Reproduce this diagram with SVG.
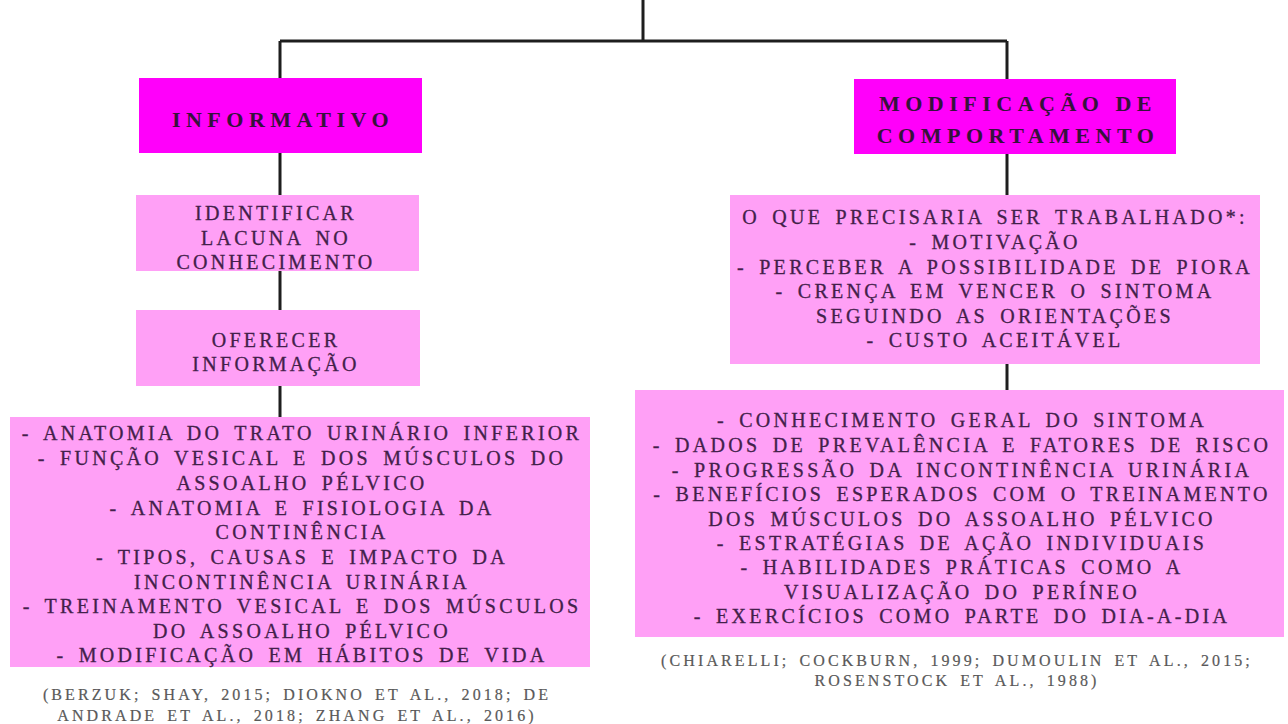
<svg xmlns="http://www.w3.org/2000/svg" width="1288" height="724" viewBox="0 0 1288 724" font-family="'Liberation Serif', 'DejaVu Serif', serif">
<style>
.hd{fill:#ff00fa}
.bx{fill:#ffa0f6}
.t{font-size:20px;letter-spacing:3.3px;word-spacing:4px;fill:#43204a;stroke:#43204a;stroke-width:0.3;text-anchor:middle}
.h{font-size:22px;font-weight:bold;letter-spacing:5.5px;fill:#36123c;text-anchor:middle}
.c{font-size:16px;letter-spacing:3.1px;word-spacing:3px;fill:#595959;stroke:#595959;stroke-width:0.2;text-anchor:middle}
.ln{stroke:#1e1e1e;stroke-width:3;fill:none}
</style>
<rect width="1288" height="724" fill="#ffffff"/>
<g id="connectors">
<path class="ln" d="M643 0V41M280 41H1007M280 41V78M280 153V195M280 271V310M280 386V417M1007 41V79M1007 154V195M1007 364V390"/>
</g>
<g id="informativo">
<rect class="hd" x="139" y="78" width="283" height="75"/>
<text class="h" x="283" y="127" font-family="Liberation Serif">INFORMATIVO</text>
</g>
<g id="identificar" font-family="Liberation Serif">
<rect class="bx" x="136" y="195" width="283" height="76"/>
<text class="t" x="276" y="220">IDENTIFICAR</text>
<text class="t" x="276" y="245">LACUNA NO</text>
<text class="t" x="276" y="269">CONHECIMENTO</text>
</g>
<g id="oferecer" font-family="Liberation Serif">
<rect class="bx" x="136" y="310" width="284" height="76"/>
<text class="t" x="276" y="347">OFERECER</text>
<text class="t" x="276" y="371">INFORMAÇÃO</text>
</g>
<g id="conteudo-informativo" font-family="Liberation Serif">
<rect class="bx" x="10" y="417" width="580" height="250"/>
<text class="t" x="302" y="440">- ANATOMIA DO TRATO URINÁRIO INFERIOR</text>
<text class="t" x="302" y="465">- FUNÇÃO VESICAL E DOS MÚSCULOS DO</text>
<text class="t" x="302" y="490">ASSOALHO PÉLVICO</text>
<text class="t" x="302" y="515">- ANATOMIA E FISIOLOGIA DA</text>
<text class="t" x="302" y="539">CONTINÊNCIA</text>
<text class="t" x="302" y="564">- TIPOS, CAUSAS E IMPACTO DA</text>
<text class="t" x="302" y="589">INCONTINÊNCIA URINÁRIA</text>
<text class="t" x="302" y="613">- TREINAMENTO VESICAL E DOS MÚSCULOS</text>
<text class="t" x="302" y="638">DO ASSOALHO PÉLVICO</text>
<text class="t" x="302" y="662">- MODIFICAÇÃO EM HÁBITOS DE VIDA</text>
</g>
<g id="citacao-esquerda" font-family="Liberation Serif">
<text class="c" x="297" y="700">(BERZUK; SHAY, 2015; DIOKNO ET AL., 2018; DE</text>
<text class="c" x="297" y="721">ANDRADE ET AL., 2018; ZHANG ET AL., 2016)</text>
</g>
<g id="modificacao" font-family="Liberation Serif">
<rect class="hd" x="854" y="79" width="322" height="75"/>
<text class="h" x="1018" y="111">MODIFICAÇÃO DE</text>
<text class="h" x="1018" y="143">COMPORTAMENTO</text>
</g>
<g id="o-que" font-family="Liberation Serif">
<rect class="bx" x="730" y="195" width="530" height="169"/>
<text class="t" x="995" y="224">O QUE PRECISARIA SER TRABALHADO*:</text>
<text class="t" x="995" y="249">- MOTIVAÇÃO</text>
<text class="t" x="995" y="274">- PERCEBER A POSSIBILIDADE DE PIORA</text>
<text class="t" x="995" y="298">- CRENÇA EM VENCER O SINTOMA</text>
<text class="t" x="995" y="323">SEGUINDO AS ORIENTAÇÕES</text>
<text class="t" x="995" y="347">- CUSTO ACEITÁVEL</text>
</g>
<g id="conteudo-comportamento" font-family="Liberation Serif">
<rect class="bx" x="635" y="390" width="649" height="247"/>
<text class="t" x="962" y="427">- CONHECIMENTO GERAL DO SINTOMA</text>
<text class="t" x="962" y="452">- DADOS DE PREVALÊNCIA E FATORES DE RISCO</text>
<text class="t" x="962" y="477">- PROGRESSÃO DA INCONTINÊNCIA URINÁRIA</text>
<text class="t" x="962" y="501">- BENEFÍCIOS ESPERADOS COM O TREINAMENTO</text>
<text class="t" x="962" y="526">DOS MÚSCULOS DO ASSOALHO PÉLVICO</text>
<text class="t" x="962" y="550">- ESTRATÉGIAS DE AÇÃO INDIVIDUAIS</text>
<text class="t" x="962" y="574">- HABILIDADES PRÁTICAS COMO A</text>
<text class="t" x="962" y="599">VISUALIZAÇÃO DO PERÍNEO</text>
<text class="t" x="962" y="623">- EXERCÍCIOS COMO PARTE DO DIA-A-DIA</text>
</g>
<g id="citacao-direita" font-family="Liberation Serif">
<text class="c" x="957" y="666">(CHIARELLI; COCKBURN, 1999; DUMOULIN ET AL., 2015;</text>
<text class="c" x="957" y="686">ROSENSTOCK ET AL., 1988)</text>
</g>
</svg>
